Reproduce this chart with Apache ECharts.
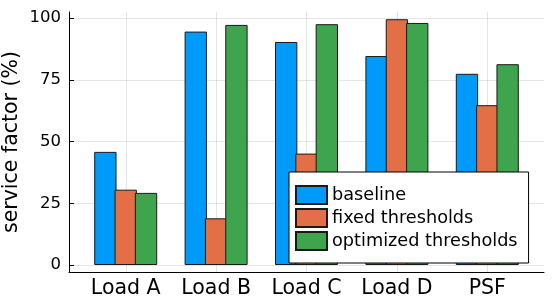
<!DOCTYPE html>
<html>
<head>
<meta charset="utf-8">
<script src="https://cdn.jsdelivr.net/npm/echarts@6/dist/echarts.min.js"></script>
<style>html,body{margin:0;padding:0;background:#fff}#c{width:556px;height:304px}</style>
</head>
<body>
<div id="c"></div>
<script>
const categories = ['Load A', 'Load B', 'Load C', 'Load D', 'PSF'];
const baseline = [45.8, 94.5, 90.3, 84.6, 77.4];
const fixedThresholds = [30.5, 18.9, 45.1, 99.5, 64.7];
const optimizedThresholds = [29.2, 97.2, 97.5, 98.0, 81.3];
const seriesNames = ['baseline', 'fixed thresholds', 'optimized thresholds'];
const colors = ['#009AFA', '#E36F47', '#3EA44E'];
const yTicks = [0, 25, 50, 75, 100];

const FONT = 'DejaVu Sans';
const chart = echarts.init(document.getElementById('c'), null, {renderer: 'canvas'});
const barStyle = c => ({color: c, borderColor: '#1a1a1a', borderWidth: 1});
const values = [baseline, fixedThresholds, optimizedThresholds];
const gridLine = {show: true, lineStyle: {color: 'rgba(0,0,0,0.1)', width: 1}};
const g = o => Object.assign({outerBoundsMode: 'none', containLabel: false}, o);

chart.setOption({
  animation: false,
  backgroundColor: '#fff',
  textStyle: {fontFamily: FONT},
  grid: [
    g({left: 69, right: 12, top: 12, bottom: 32}),          // frame
    g({left: 69, right: 12, top: 18, bottom: 39}),          // y scale 0..100
    g({left: 80.5, right: 23.5, top: 12, bottom: 32}),      // bars (category)
    g({left: 125.75, right: 68.65, top: 12, bottom: 32})    // vertical grid lines at category centres
  ],
  xAxis: [
    {gridIndex: 0, type: 'value', min: 0, max: 1, axisLine: {show: true, onZero: false, lineStyle: {color: '#000', width: 1}},
     axisTick: {show: false}, axisLabel: {show: false}, splitLine: {show: false}},
    {gridIndex: 1, type: 'value', min: 0, max: 1, show: false},
    {gridIndex: 2, type: 'category', data: categories, boundaryGap: true,
     axisLine: {show: false},
     axisTick: {show: true, inside: true, length: 4, alignWithLabel: true, lineStyle: {color: '#000'}},
     axisLabel: {fontSize: 20.5, color: '#000', margin: 6, interval: 0, fontFamily: FONT},
     splitLine: {show: false}},
    {gridIndex: 3, type: 'value', min: 1, max: categories.length, interval: 1,
     axisLine: {show: false}, axisTick: {show: false}, axisLabel: {show: false},
     splitLine: gridLine}
  ],
  yAxis: [
    {gridIndex: 0, type: 'value', min: 0, max: 1, axisLine: {show: true, onZero: false, lineStyle: {color: '#000', width: 1}},
     axisTick: {show: false}, axisLabel: {show: false}, splitLine: {show: false},
     name: 'service factor (%)', nameLocation: 'middle', nameGap: 47,
     nameTextStyle: {fontSize: 20.5, color: '#000', fontFamily: FONT}},
    {gridIndex: 1, type: 'value', min: yTicks[0], max: yTicks[yTicks.length - 1], interval: 25,
     axisLine: {show: false},
     axisTick: {show: true, inside: true, length: 5, lineStyle: {color: '#000'}},
     axisLabel: {fontSize: 16.5, color: '#000', margin: 8, fontFamily: FONT},
     splitLine: gridLine},
    {gridIndex: 2, type: 'value', min: -2.83, max: 102.43, show: false},
    {gridIndex: 3, type: 'value', min: 0, max: 1, show: false}
  ],
  legend: {
    orient: 'vertical', left: 289, top: 172,
    padding: [13, 11, 12, 6], itemGap: 3, itemWidth: 31, itemHeight: 18,
    backgroundColor: '#fff', borderColor: '#000', borderWidth: 1,
    textStyle: {fontSize: 17.7, lineHeight: 18, color: '#000', fontFamily: FONT},
    icon: 'rect',
    data: seriesNames
  },
  series: seriesNames.map((n, i) => ({
    name: n, type: 'bar', xAxisIndex: 2, yAxisIndex: 2,
    data: values[i], barWidth: 22.33, barGap: '-8.96%',
    itemStyle: barStyle(colors[i])
  }))
});
</script>
</body>
</html>
